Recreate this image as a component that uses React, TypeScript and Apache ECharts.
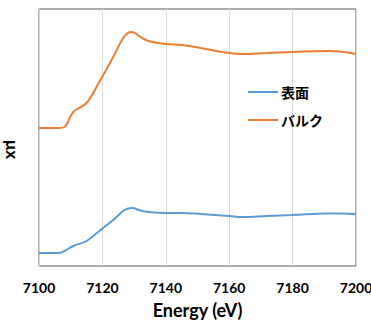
import React, { useEffect, useRef } from "react";
import * as echarts from "echarts";

const energies = [7100, 7106, 7108, 7110.8, 7115, 7119, 7123.4, 7127, 7129.3, 7132, 7134.5, 7140, 7145, 7151, 7160, 7164, 7172, 7180, 7191, 7195, 7200];
const bulk = [1.38, 1.38, 1.39, 1.54, 1.63, 1.84, 2.09, 2.30, 2.34, 2.29, 2.25, 2.22, 2.21, 2.18, 2.13, 2.12, 2.13, 2.14, 2.15, 2.145, 2.12];
const surface = [0.13, 0.13, 0.15, 0.20, 0.25, 0.35, 0.46, 0.56, 0.58, 0.555, 0.54, 0.53, 0.53, 0.52, 0.50, 0.49, 0.50, 0.51, 0.525, 0.525, 0.52];
const seriesNames = ["表面", "バルク"];
const xTicks = { min: 7100, max: 7200, interval: 20 };

const FONT = "Lato, 'Open Sans', sans-serif";

export default function App() {
  const ref = useRef<HTMLDivElement>(null);
  useEffect(() => {
    if (!ref.current) return;
    const chart = echarts.init(ref.current, undefined, { renderer: "svg" });
    chart.setOption({
      animation: false,
      backgroundColor: "#fff",
      grid: {
        left: 39,
        right: 15,
        top: 9,
        bottom: 57,
        containLabel: false,
        outerBoundsMode: "none",
        show: true,
        borderColor: "#595959",
        borderWidth: 1,
      },
      legend: {
        orient: "vertical",
        left: 248,
        top: 85,
        padding: 0,
        itemWidth: 30,
        itemHeight: 2,
        itemGap: 14,
        icon: "rect",
        data: seriesNames,
        textStyle: { fontFamily: "'Noto Sans CJK JP', sans-serif", fontWeight: "bold", fontSize: 14, color: "#000", padding: [0, 0, 0, -2] },
      },
      xAxis: {
        type: "value",
        min: xTicks.min,
        max: xTicks.max,
        interval: xTicks.interval,
        name: "Energy (eV)",
        nameLocation: "middle",
        nameGap: 35,
        nameTextStyle: { fontFamily: FONT, fontWeight: "bold", fontSize: 18, color: "#000" },
        axisLine: { show: false },
        axisTick: { show: false },
        axisLabel: {
          fontFamily: FONT,
          fontWeight: "bold",
          fontSize: 14,
          color: "#000",
          margin: 14,
          formatter: (v: number) => String(v),
        },
        splitLine: { show: true, lineStyle: { color: "#d9d9d9", width: 1 } },
      },
      yAxis: {
        type: "value",
        min: 0,
        max: 2.57,
        name: "μx",
        nameLocation: "middle",
        nameRotate: -90,
        nameGap: 18,
        nameTextStyle: { fontFamily: FONT, fontWeight: "bold", fontSize: 17, color: "#000", padding: [0, 0, 0, 24] },
        axisLine: { show: false },
        axisTick: { show: false },
        axisLabel: { show: false },
        splitLine: { show: false },
      },
      series: [
        {
          name: seriesNames[0],
          type: "line",
          smooth: 0.4,
          symbol: "none",
          lineStyle: { color: "#5B9BD5", width: 2 },
          itemStyle: { color: "#5B9BD5" },
          data: energies.map((e, i) => [e, surface[i]]),
        },
        {
          name: seriesNames[1],
          type: "line",
          smooth: 0.4,
          symbol: "none",
          lineStyle: { color: "#ED7D31", width: 2 },
          itemStyle: { color: "#ED7D31" },
          data: energies.map((e, i) => [e, bulk[i]]),
        },
      ],
    });
    return () => chart.dispose();
  }, []);
  return <div ref={ref} style={{ width: 371, height: 323, position: "absolute", left: 0, top: 0 }} />;
}
